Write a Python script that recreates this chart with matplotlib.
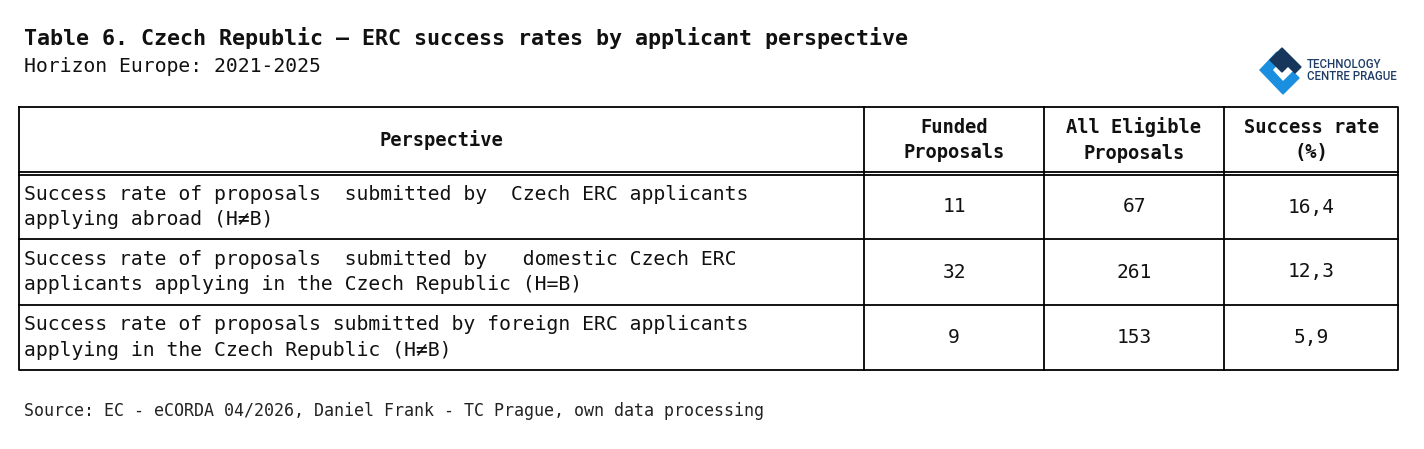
import matplotlib
matplotlib.use("Agg")
import matplotlib.pyplot as plt
from matplotlib.patches import Polygon

title = "Table 6. Czech Republic – ERC success rates by applicant perspective"
subtitle = "Horizon Europe: 2021-2025"
source = "Source: EC - eCORDA 04/2026, Daniel Frank - TC Prague, own data processing"
headers = ["Perspective", "Funded\nProposals", "All Eligible\nProposals", "Success rate\n(%)"]
perspectives = [
    "Success rate of proposals  submitted by  Czech ERC applicants\napplying abroad (H≠B)",
    "Success rate of proposals  submitted by   domestic Czech ERC\napplicants applying in the Czech Republic (H=B)",
    "Success rate of proposals submitted by foreign ERC applicants\napplying in the Czech Republic (H≠B)",
]
funded = ["11", "32", "9"]
eligible = ["67", "261", "153"]
rates = ["16,4", "12,3", "5,9"]

W, H = 1424, 449
fig = plt.figure(figsize=(W/100, H/100), dpi=100)
ax = fig.add_axes([0, 0, 1, 1])
ax.set_xlim(0, W); ax.set_ylim(H, 0); ax.axis("off")
F = "DejaVu Sans Mono"
ax.text(24, 38, title, fontsize=15.6, fontweight="bold", family=F, va="center", color="#111")
ax.text(24, 67, subtitle, fontsize=14.2, family=F, va="center", color="#111")
ax.text(24, 411, source, fontsize=12.0, family=F, va="center", color="#222")

# logo
ax.add_patch(Polygon([(1260,70),(1277,52),(1283,58),(1272,70),(1283,82),(1293,72),(1299,78),(1283,94)], closed=True, color="#1a8fe0"))
ax.add_patch(Polygon([(1270,60),(1282,48),(1301,67),(1295,73),(1288,66),(1282,72),(1276,66)], closed=True, color="#16365c"))
ax.text(1307, 64, "TECHNOLOGY", fontsize=8.3, color="#1f3d66", va="center", family="Roboto", fontweight="medium")
ax.text(1307, 77, "CENTRE PRAGUE", fontsize=8.3, color="#1f3d66", va="center", family="Roboto", fontweight="medium")

# table
x0, x1 = 19, 1398
cols = [19, 864, 1044, 1224, 1398]
rows = [107, 173, 239, 305, 370]
lw = 1.3
ax.plot([x0, x1, x1, x0, x0], [rows[0], rows[0], rows[-1], rows[-1], rows[0]], color="k", lw=lw)
for c in cols[1:-1]:
    ax.plot([c, c], [rows[0], rows[-1]], color="k", lw=lw)
ax.plot([x0, x1], [171.8, 171.8], color="k", lw=lw)
ax.plot([x0, x1], [174.6, 174.6], color="k", lw=lw)
for r in rows[2:-1]:
    ax.plot([x0, x1], [r, r], color="k", lw=lw)

ax.text((cols[0]+cols[1])/2, 140, headers[0], fontsize=13.5, fontweight="bold", family=F, ha="center", va="center", color="#111")
for i in range(1, 4):
    ax.text((cols[i]+cols[i+1])/2, 140, headers[i], fontsize=13.5, fontweight="bold", family=F, ha="center", va="center", color="#111", linespacing=1.45)
for j in range(3):
    yc = (rows[j+1]+rows[j+2])/2 + (1 if j == 0 else 0)
    ax.text(24, yc, perspectives[j], fontsize=14.25, family=F, va="center", color="#111", linespacing=1.45)
    for i, v in enumerate([funded[j], eligible[j], rates[j]]):
        ax.text((cols[i+1]+cols[i+2])/2, yc, v, fontsize=14, family=F, ha="center", va="center", color="#111")
fig.savefig("out.png", dpi=100)
